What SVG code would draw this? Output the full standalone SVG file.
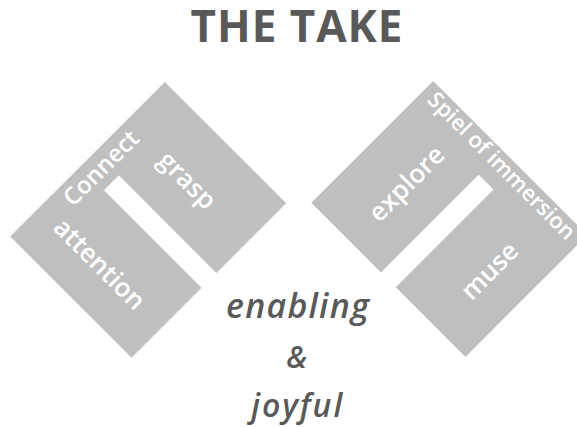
<svg xmlns="http://www.w3.org/2000/svg" width="577" height="427" viewBox="0 0 577 427">
<style>
.shape{fill:#bfbfbf;}
.lbl{font-family:"Open Sans","Liberation Sans",sans-serif;fill:#ffffff;text-anchor:middle;font-weight:600;}
.title{font-family:"Open Sans","Liberation Sans",sans-serif;font-weight:700;fill:#595959;text-anchor:middle;font-size:44px;letter-spacing:1px;}
.sub{font-family:"Open Sans","Liberation Sans",sans-serif;font-weight:600;font-style:italic;fill:#595959;text-anchor:middle;}
</style>
<rect width="577" height="427" fill="#ffffff"/>
<g id="title"><text class="title" x="297" y="42">THE TAKE</text></g>
<g id="left-block">
<path class="shape" transform="rotate(-45)" d="M-160,174.5 H58.7 V346 H-40 V208 H-61 V346 H-160 Z"/>
<text class="lbl" transform="rotate(-45)" x="-47.3" y="198.4" font-size="24">Connect</text>
<text class="lbl" transform="rotate(45)" x="260" y="3.9" font-size="26">grasp</text>
<text class="lbl" transform="rotate(45)" x="257.2" y="125.2" font-size="26">attention</text>
</g>
<g id="right-block">
<path class="shape" transform="rotate(-45)" d="M76.7,363.5 H249 V581.5 H76.7 V483 H215 V462 H76.7 Z"/>
<text class="lbl" transform="rotate(-45)" x="157.6" y="426.3" font-size="26">explore</text>
<text class="lbl" transform="rotate(-45)" x="154.7" y="546.5" font-size="26">muse</text>
<text class="lbl" transform="rotate(45)" x="472" y="-230" font-size="22">Spiel of immersion</text>
</g>
<g id="caption">
<text class="sub" x="297.5" y="318.3" font-size="34" textLength="143" lengthAdjust="spacing">enabling</text>
<text class="sub" x="296.7" y="368" font-size="30">&amp;</text>
<text class="sub" x="296.7" y="417" font-size="32" textLength="91" lengthAdjust="spacing">joyful</text>
</g>
<g id="connectors"/>
</svg>
